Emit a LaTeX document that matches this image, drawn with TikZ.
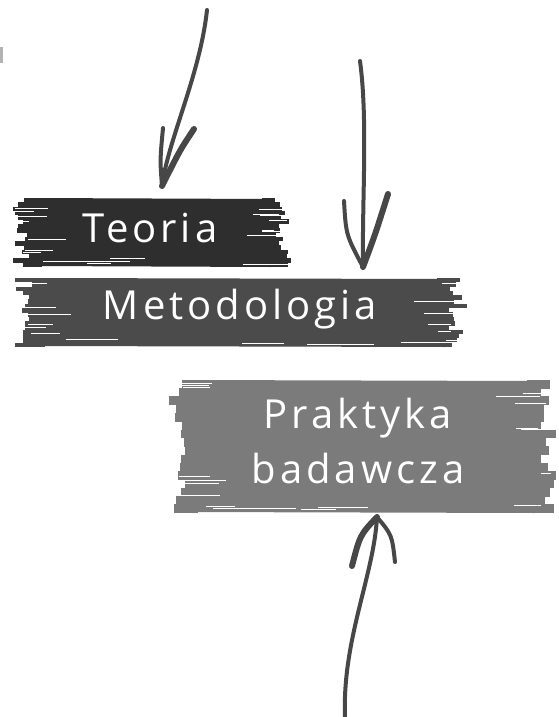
\documentclass[tikz,border=0pt]{standalone}
\usepackage{fontspec}
\newfontfamily\hand[LetterSpace=10]{Open Sans}
\definecolor{bA}{HTML}{2E2E2E}
\definecolor{bB}{HTML}{4B4B4B}
\definecolor{bC}{HTML}{7B7B7B}
\definecolor{arr}{HTML}{474747}
\tikzset{
  label text/.style={text=white,font=\hand\fontsize{40}{55}\selectfont,inner sep=0pt,align=center},
  shaft/.style={draw=arr,line width=4pt,line cap=round},
  barb/.style={draw=arr,line width=4pt,line cap=round},
  thickbarb/.style={draw=arr,line width=6pt,line cap=round},
}
\newcommand\brushpaint[6]{%
  \pgfmathsetseed{#6}%
  \fill[#5] (#1+22,#2) -- (#3-22,#2+1) -- (#3-22,#4) -- (#1+22,#4-1) -- cycle;
  \foreach \i in {0,...,15}{%
    \pgfmathsetmacro\yy{#2+(\i+0.5)*(#4-#2)/16}%
    \pgfmathsetmacro\lw{(#4-#2)/16*1.05}%
    \pgfmathsetmacro\la{#1+rnd*18}%
    \pgfmathsetmacro\ra{#3-rnd*18}%
    \draw[#5,line width=\lw pt] (\la,\yy) -- (#1+30,\yy);
    \draw[#5,line width=\lw pt] (#3-30,\yy) -- (\ra,\yy);
  }
  \foreach \i in {1,...,7}{%
    \pgfmathsetmacro\yy{#2+3+rnd*(#4-#2-6)}%
    \pgfmathsetmacro\xa{#1+rnd*20}%
    \pgfmathsetmacro\len{10+rnd*35}%
    \draw[white,line width=0.8pt] (\xa,\yy) -- ++(\len,0);
    \pgfmathsetmacro\yb{#2+3+rnd*(#4-#2-6)}%
    \pgfmathsetmacro\xb{#3-rnd*20}%
    \pgfmathsetmacro\lb{10+rnd*35}%
    \draw[white,line width=0.8pt] (\xb,\yb) -- ++(-\lb,0);
  }
  \foreach \i in {1,...,4}{%
    \pgfmathsetmacro\yy{#4-2-rnd*8}%
    \pgfmathsetmacro\xa{#1+30+rnd*(#3-#1-60)}%
    \pgfmathsetmacro\len{20+rnd*80}%
    \draw[white,line width=0.6pt] (\xa,\yy) -- ++(\len,0);
  }
}
\begin{document}
\begin{tikzpicture}[x=1pt,y=-1pt]
\useasboundingbox (0,0) rectangle (558,717);
\fill[gray!60] (0,47) rectangle (3,63);

% brushes
\brushpaint{12}{198}{292}{267}{bA}{11}
\brushpaint{15}{278}{467}{347}{bB}{23}
\brushpaint{168}{380}{557}{513}{bC}{37}

% labels
\node[label text] (teoria) at (150,228) {Teoria};
\node[label text] (metod) at (240,309) {Metodologia};
\node[label text] (prakt) at (358,441) {Praktyka\\badawcza};

% arrow 1
\coordinate (a1s) at (207,10);
\coordinate (a1e) at (162,186);
\draw[shaft] (a1s) .. controls (200,75) and (168,140) .. (a1e);
\draw[barb] (a1e) .. controls (160,160) .. (163,128);
\draw[thickbarb] (a1e) .. controls (180,150) .. (194,129);

% arrow 2
\coordinate (a2s) at (360,61);
\coordinate (a2e) at (363,267);
\draw[shaft] (a2s) .. controls (368,120) and (362,200) .. (a2e);
\draw[barb] (a2e) .. controls (346,235) .. (344,201);
\draw[thickbarb] (a2e) .. controls (375,235) .. (388,194);

% arrow 3
\coordinate (a3s) at (345,717);
\coordinate (a3e) at (377,517);
\draw[shaft] (a3s) .. controls (342,640) and (374,575) .. (a3e);
\draw[thickbarb] (a3e) .. controls (360,535) .. (352,566);
\draw[barb] (a3e) .. controls (392,535) .. (395,562);
\end{tikzpicture}
\end{document}
